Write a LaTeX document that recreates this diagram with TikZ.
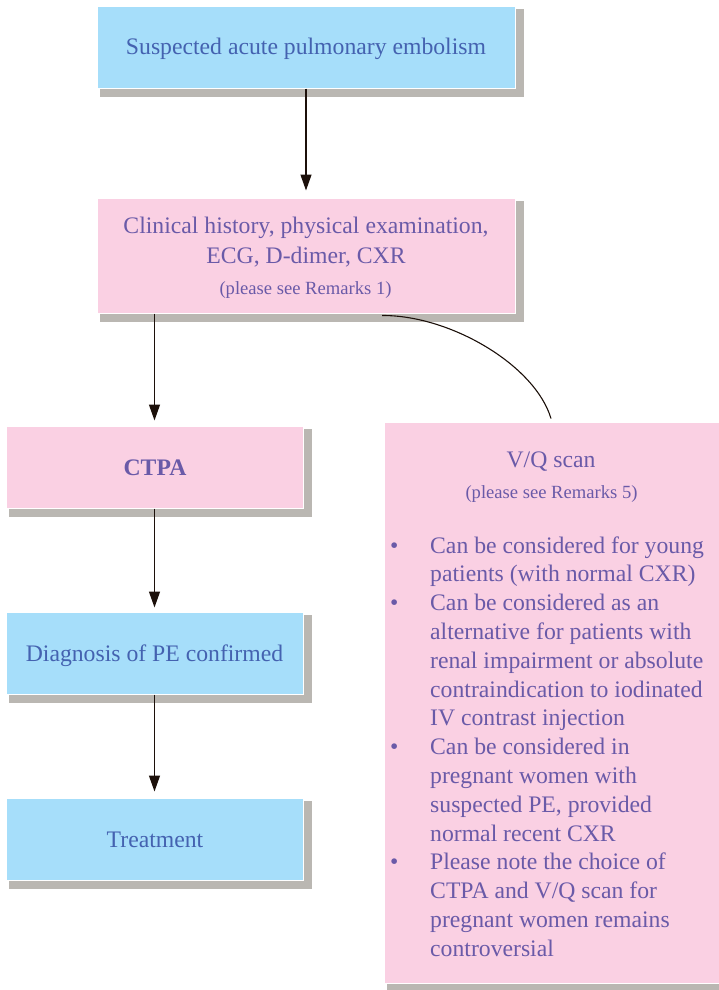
\documentclass[tikz,border=0pt]{standalone}
\usepackage{fontspec}
\setmainfont{Liberation Serif}
\usetikzlibrary{arrows.meta,calc,backgrounds}
\definecolor{boxblue}{RGB}{166,222,250}
\definecolor{boxpink}{RGB}{250,208,227}
\definecolor{shadowgray}{RGB}{186,183,178}
\definecolor{txtblue}{RGB}{68,98,176}
\definecolor{txtpurple}{RGB}{106,90,168}
\definecolor{linecol}{RGB}{28,16,10}
\newcommand{\mainfs}{\fontsize{23.7}{28.8}\selectfont}
\newcommand{\remfs}{\fontsize{18.6}{22}\selectfont}
\newcommand{\bul}{\makebox[40pt][l]{\textbullet}}
\begin{document}
\begin{tikzpicture}[x=1pt,y=-1pt,
  bluebox/.style={fill=boxblue, draw=white, line width=1pt, text=txtblue, font=\mainfs, inner sep=0pt, align=center},
  pinkbox/.style={fill=boxpink, draw=white, line width=1pt, text=txtpurple, font=\mainfs, inner sep=0pt, align=center},
  ptext/.style={text=txtpurple, font=\mainfs, inner sep=0pt, anchor=base},
  btext/.style={text=txtblue, font=\mainfs, inner sep=0pt, anchor=base},
  rtext/.style={text=txtpurple, font=\remfs, inner sep=0pt, anchor=base},
  boxshadow/.style={fill=shadowgray, draw=none},
  flow/.style={draw=linecol, line width=1.3pt, -{Triangle[length=16pt,width=11pt]}, shorten >=6pt},
  link/.style={draw=linecol, line width=1.1pt}]
\useasboundingbox (0,0) rectangle (718,990);

% boxes
\node[bluebox, minimum width=418pt, minimum height=81pt] (top) at (306,47.5) {};
\node[btext] (topt) at (306,55) {Suspected acute pulmonary embolism};
\node[pinkbox, minimum width=418pt, minimum height=115pt] (clin) at (306,255.5) {};
\node[ptext] (clin1) at (306,233) {Clinical history, physical examination,};
\node[ptext] (clin2) at (306,263) {ECG, D-dimer, CXR};
\node[rtext] (clin3) at (305.5,294) {(please see Remarks 1)};

\node[pinkbox, minimum width=297pt, minimum height=82pt] (ctpa) at (154.5,467) {};
\node[ptext, font=\mainfs\bfseries] (ctpat) at (155,475.5) {CTPA};
\node[bluebox, minimum width=297pt, minimum height=82pt] (diag) at (154.5,653) {};
\node[btext] (diagt) at (154.5,661) {Diagnosis of PE confirmed};
\node[bluebox, minimum width=297pt, minimum height=82pt] (treat) at (154.5,839) {};
\node[btext] (treatt) at (155,847.5) {Treatment};

\node[pinkbox, minimum width=335pt, minimum height=561pt] (vq) at (551.5,702.5) {};
\node[ptext] (vqt) at (551,467) {V/Q scan};
\node[rtext] (vqr) at (551.5,498) {(please see Remarks 5)};
\node[text=txtpurple, font=\mainfs, inner sep=0pt, anchor=base west] (vqlist) at (390,553) {%
\begin{tabular}[t]{@{}l@{}l@{}}
\bul & Can be considered for young\\
 & patients (with normal CXR)\\
\bul & Can be considered as an\\
 & alternative for patients with\\
 & renal impairment or absolute\\
 & contraindication to iodinated\\
 & IV contrast injection\\
\bul & Can be considered in\\
 & pregnant women with\\
 & suspected PE, provided\\
 & normal recent CXR\\
\bul & Please note the choice of\\
 & CTPA and V/Q scan for\\
 & pregnant women remains\\
 & controversial
\end{tabular}};

% shadows
\begin{scope}[on background layer]
  \foreach \n in {top,clin,ctpa,diag,treat,vq}
    \path[boxshadow] ($(\n.north west)+(3,3)$) rectangle ($(\n.south east)+(8,8)$);
\end{scope}

% connectors
\draw[flow, shorten >=7pt] (top) -- (clin);
\draw[flow, shorten >=5pt] (clin.south -| ctpa.north) -- (ctpa.north);
\draw[flow, shorten >=4pt] (ctpa) -- (diag);
\draw[flow] (diag) -- (treat);
\draw[link] ($(clin.south)+(76,2)$) .. controls (450,315) and (535,365) .. ($(vq.north)+(-0.5,-3)$);
\end{tikzpicture}
\end{document}
